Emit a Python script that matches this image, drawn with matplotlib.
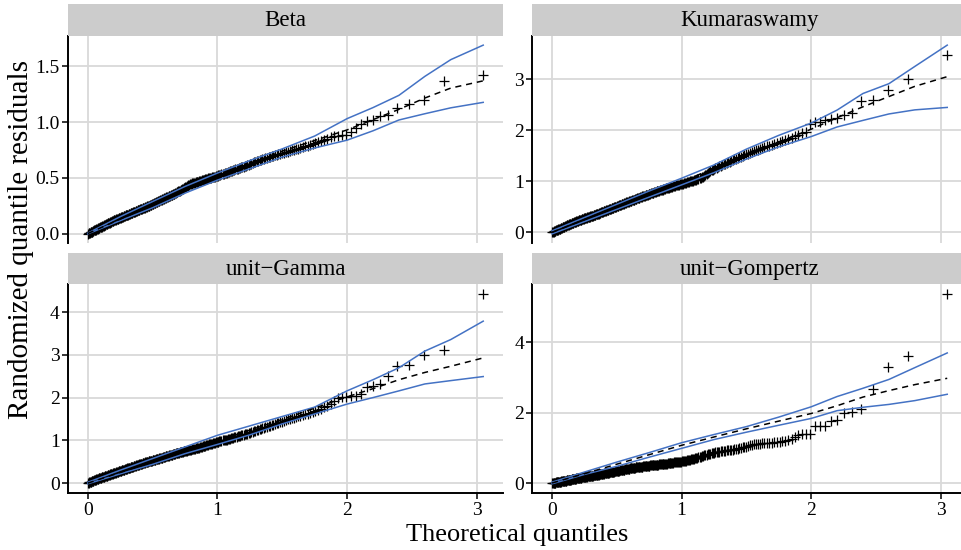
import matplotlib
matplotlib.use("Agg")
import matplotlib.pyplot as plt
from matplotlib.ticker import MultipleLocator, FormatStrFormatter
from statistics import NormalDist

plt.rcParams["font.family"] = ["Liberation Serif", "DejaVu Serif"]

# ---------------------------------------------------------------------------
# Data: sorted randomized quantile residuals (absolute values) for each model
# ---------------------------------------------------------------------------
panel_titles = ["Beta", "Kumaraswamy", "unit\u2212Gamma", "unit\u2212Gompertz"]

beta_resid = [
    0.001, 0.003, 0.006, 0.008, 0.012, 0.014, 0.016, 0.019, 0.022, 0.026,
    0.029, 0.031, 0.034, 0.037, 0.039, 0.042, 0.045, 0.047, 0.050, 0.053,
    0.056, 0.058, 0.061, 0.063, 0.066, 0.069, 0.072, 0.074, 0.077, 0.080,
    0.083, 0.086, 0.088, 0.091, 0.094, 0.097, 0.099, 0.102, 0.105, 0.108,
    0.111, 0.113, 0.116, 0.118, 0.120, 0.122, 0.125, 0.127, 0.130, 0.132,
    0.135, 0.137, 0.139, 0.141, 0.143, 0.146, 0.148, 0.150, 0.153, 0.156,
    0.158, 0.160, 0.163, 0.165, 0.167, 0.169, 0.171, 0.174, 0.176, 0.179,
    0.182, 0.184, 0.186, 0.189, 0.191, 0.193, 0.196, 0.198, 0.200, 0.203,
    0.206, 0.208, 0.210, 0.213, 0.215, 0.217, 0.220, 0.222, 0.225, 0.227,
    0.230, 0.232, 0.234, 0.237, 0.239, 0.241, 0.244, 0.246, 0.249, 0.252,
    0.255, 0.258, 0.261, 0.264, 0.266, 0.269, 0.272, 0.274, 0.277, 0.280,
    0.283, 0.286, 0.289, 0.292, 0.295, 0.298, 0.301, 0.304, 0.307, 0.310,
    0.313, 0.316, 0.319, 0.322, 0.325, 0.328, 0.331, 0.334, 0.337, 0.341,
    0.344, 0.347, 0.350, 0.353, 0.356, 0.359, 0.362, 0.366, 0.370, 0.374,
    0.378, 0.382, 0.386, 0.390, 0.394, 0.398, 0.402, 0.406, 0.410, 0.415,
    0.420, 0.424, 0.429, 0.433, 0.437, 0.441, 0.445, 0.448, 0.450, 0.453,
    0.456, 0.458, 0.460, 0.463, 0.465, 0.467, 0.470, 0.472, 0.475, 0.478,
    0.480, 0.483, 0.485, 0.487, 0.490, 0.492, 0.495, 0.497, 0.500, 0.502,
    0.505, 0.507, 0.510, 0.512, 0.515, 0.518, 0.520, 0.523, 0.526, 0.530,
    0.533, 0.536, 0.539, 0.542, 0.545, 0.548, 0.551, 0.554, 0.558, 0.562,
    0.566, 0.569, 0.572, 0.576, 0.579, 0.583, 0.586, 0.590, 0.593, 0.597,
    0.601, 0.605, 0.609, 0.614, 0.618, 0.623, 0.628, 0.633, 0.639, 0.645,
    0.650, 0.654, 0.658, 0.662, 0.666, 0.670, 0.674, 0.679, 0.684, 0.690,
    0.694, 0.698, 0.702, 0.707, 0.711, 0.716, 0.720, 0.725, 0.731, 0.735,
    0.741, 0.746, 0.752, 0.757, 0.763, 0.770, 0.776, 0.783, 0.790, 0.797,
    0.803, 0.810, 0.818, 0.828, 0.836, 0.848, 0.866, 0.872, 0.876, 0.880,
    0.886, 0.912, 0.948, 0.984, 1.007, 1.022, 1.052, 1.067, 1.124, 1.158,
    1.196, 1.366, 1.424,
]

kuma_resid = [
    0.003, 0.008, 0.013, 0.019, 0.024, 0.030, 0.036, 0.041, 0.047, 0.053,
    0.058, 0.064, 0.069, 0.074, 0.080, 0.085, 0.091, 0.097, 0.103, 0.108,
    0.114, 0.119, 0.124, 0.130, 0.135, 0.140, 0.145, 0.150, 0.155, 0.160,
    0.165, 0.170, 0.175, 0.180, 0.186, 0.191, 0.196, 0.200, 0.205, 0.210,
    0.215, 0.220, 0.225, 0.229, 0.234, 0.239, 0.243, 0.247, 0.251, 0.256,
    0.260, 0.264, 0.268, 0.272, 0.276, 0.279, 0.283, 0.287, 0.291, 0.295,
    0.299, 0.303, 0.307, 0.311, 0.315, 0.319, 0.323, 0.327, 0.331, 0.338,
    0.343, 0.347, 0.352, 0.356, 0.360, 0.364, 0.368, 0.372, 0.378, 0.384,
    0.389, 0.394, 0.399, 0.404, 0.409, 0.414, 0.419, 0.424, 0.430, 0.435,
    0.440, 0.445, 0.450, 0.456, 0.461, 0.466, 0.471, 0.476, 0.481, 0.486,
    0.491, 0.496, 0.501, 0.506, 0.511, 0.516, 0.521, 0.526, 0.531, 0.537,
    0.542, 0.548, 0.553, 0.558, 0.564, 0.569, 0.575, 0.580, 0.585, 0.590,
    0.595, 0.600, 0.606, 0.611, 0.616, 0.622, 0.627, 0.632, 0.637, 0.642,
    0.648, 0.654, 0.659, 0.665, 0.671, 0.676, 0.682, 0.688, 0.693, 0.698,
    0.703, 0.708, 0.714, 0.719, 0.724, 0.729, 0.735, 0.740, 0.745, 0.751,
    0.757, 0.763, 0.768, 0.773, 0.779, 0.784, 0.789, 0.795, 0.800, 0.806,
    0.811, 0.817, 0.822, 0.828, 0.834, 0.839, 0.845, 0.850, 0.856, 0.861,
    0.867, 0.872, 0.877, 0.882, 0.887, 0.892, 0.897, 0.902, 0.907, 0.914,
    0.920, 0.925, 0.930, 0.935, 0.940, 0.945, 0.950, 0.956, 0.962, 0.968,
    0.974, 0.979, 0.984, 0.990, 0.996, 1.002, 1.008, 1.014, 1.020, 1.027,
    1.034, 1.041, 1.048, 1.056, 1.065, 1.075, 1.087, 1.101, 1.117, 1.135,
    1.155, 1.175, 1.195, 1.213, 1.229, 1.244, 1.257, 1.270, 1.283, 1.296,
    1.309, 1.322, 1.335, 1.348, 1.361, 1.374, 1.387, 1.400, 1.414, 1.428,
    1.442, 1.456, 1.470, 1.484, 1.498, 1.512, 1.526, 1.542, 1.558, 1.574,
    1.590, 1.605, 1.620, 1.638, 1.655, 1.670, 1.685, 1.700, 1.715, 1.730,
    1.745, 1.760, 1.780, 1.800, 1.825, 1.855, 1.880, 1.905, 1.945, 1.975,
    2.130, 2.160, 2.170, 2.200, 2.213, 2.233, 2.297, 2.330, 2.575, 2.590,
    2.796, 3.010, 3.476,
]

ugamma_resid = [
    0.004, 0.012, 0.019, 0.026, 0.032, 0.038, 0.044, 0.050, 0.056, 0.062,
    0.068, 0.074, 0.080, 0.085, 0.091, 0.096, 0.101, 0.106, 0.110, 0.114,
    0.119, 0.124, 0.129, 0.134, 0.139, 0.144, 0.149, 0.154, 0.159, 0.164,
    0.169, 0.174, 0.179, 0.184, 0.189, 0.194, 0.199, 0.204, 0.208, 0.213,
    0.218, 0.223, 0.227, 0.232, 0.237, 0.242, 0.247, 0.252, 0.258, 0.264,
    0.270, 0.275, 0.280, 0.285, 0.290, 0.294, 0.299, 0.304, 0.309, 0.314,
    0.319, 0.324, 0.329, 0.334, 0.339, 0.344, 0.349, 0.354, 0.359, 0.364,
    0.369, 0.374, 0.379, 0.384, 0.389, 0.394, 0.399, 0.404, 0.409, 0.414,
    0.419, 0.424, 0.429, 0.434, 0.439, 0.444, 0.449, 0.454, 0.459, 0.464,
    0.469, 0.474, 0.479, 0.484, 0.489, 0.494, 0.499, 0.504, 0.509, 0.513,
    0.517, 0.521, 0.525, 0.529, 0.533, 0.537, 0.541, 0.545, 0.550, 0.556,
    0.561, 0.566, 0.571, 0.575, 0.580, 0.584, 0.588, 0.593, 0.598, 0.603,
    0.608, 0.613, 0.618, 0.624, 0.629, 0.634, 0.639, 0.644, 0.649, 0.653,
    0.658, 0.663, 0.668, 0.674, 0.679, 0.684, 0.689, 0.694, 0.699, 0.704,
    0.709, 0.714, 0.719, 0.724, 0.729, 0.734, 0.739, 0.744, 0.749, 0.754,
    0.759, 0.763, 0.768, 0.772, 0.776, 0.780, 0.784, 0.789, 0.793, 0.797,
    0.801, 0.806, 0.811, 0.816, 0.821, 0.826, 0.832, 0.838, 0.844, 0.854,
    0.860, 0.866, 0.873, 0.879, 0.886, 0.892, 0.899, 0.905, 0.912, 0.920,
    0.927, 0.933, 0.940, 0.946, 0.952, 0.958, 0.964, 0.970, 0.976, 0.984,
    0.993, 0.998, 1.003, 1.009, 1.015, 1.021, 1.027, 1.033, 1.040, 1.048,
    1.057, 1.064, 1.072, 1.080, 1.088, 1.095, 1.102, 1.109, 1.117, 1.125,
    1.133, 1.141, 1.149, 1.157, 1.166, 1.175, 1.186, 1.197, 1.210, 1.222,
    1.234, 1.246, 1.258, 1.270, 1.281, 1.292, 1.303, 1.314, 1.328, 1.345,
    1.358, 1.371, 1.384, 1.398, 1.412, 1.426, 1.441, 1.457, 1.473, 1.490,
    1.505, 1.520, 1.535, 1.550, 1.565, 1.580, 1.595, 1.610, 1.625, 1.640,
    1.660, 1.685, 1.715, 1.745, 1.775, 1.810, 1.855, 1.925, 1.990, 2.015,
    2.022, 2.030, 2.047, 2.087, 2.245, 2.262, 2.320, 2.510, 2.730, 2.770,
    3.005, 3.120, 4.430,
]

ugomp_resid = [
    0.003, 0.006, 0.009, 0.012, 0.015, 0.018, 0.021, 0.024, 0.027, 0.031,
    0.034, 0.037, 0.040, 0.043, 0.046, 0.049, 0.052, 0.055, 0.059, 0.063,
    0.066, 0.070, 0.073, 0.076, 0.080, 0.083, 0.086, 0.090, 0.093, 0.097,
    0.100, 0.103, 0.107, 0.110, 0.113, 0.117, 0.120, 0.123, 0.127, 0.130,
    0.134, 0.137, 0.140, 0.144, 0.147, 0.151, 0.154, 0.158, 0.161, 0.165,
    0.168, 0.171, 0.174, 0.177, 0.180, 0.183, 0.186, 0.189, 0.192, 0.195,
    0.198, 0.201, 0.204, 0.207, 0.209, 0.212, 0.215, 0.218, 0.221, 0.224,
    0.227, 0.230, 0.233, 0.236, 0.239, 0.242, 0.245, 0.248, 0.251, 0.255,
    0.259, 0.263, 0.266, 0.270, 0.273, 0.277, 0.280, 0.284, 0.287, 0.291,
    0.295, 0.298, 0.302, 0.305, 0.309, 0.313, 0.316, 0.320, 0.324, 0.328,
    0.332, 0.336, 0.340, 0.344, 0.348, 0.351, 0.355, 0.358, 0.362, 0.365,
    0.369, 0.373, 0.377, 0.380, 0.384, 0.388, 0.392, 0.395, 0.399, 0.403,
    0.407, 0.411, 0.415, 0.418, 0.422, 0.426, 0.430, 0.434, 0.438, 0.442,
    0.445, 0.448, 0.451, 0.454, 0.457, 0.460, 0.462, 0.465, 0.468, 0.471,
    0.474, 0.477, 0.480, 0.483, 0.486, 0.489, 0.491, 0.494, 0.497, 0.500,
    0.503, 0.506, 0.508, 0.511, 0.514, 0.516, 0.519, 0.522, 0.525, 0.528,
    0.531, 0.534, 0.537, 0.540, 0.543, 0.546, 0.548, 0.551, 0.553, 0.556,
    0.559, 0.562, 0.566, 0.570, 0.573, 0.577, 0.581, 0.585, 0.589, 0.593,
    0.597, 0.600, 0.604, 0.608, 0.612, 0.616, 0.620, 0.625, 0.630, 0.636,
    0.643, 0.650, 0.657, 0.664, 0.671, 0.678, 0.685, 0.692, 0.699, 0.707,
    0.716, 0.725, 0.735, 0.745, 0.755, 0.765, 0.776, 0.787, 0.797, 0.808,
    0.818, 0.828, 0.838, 0.848, 0.858, 0.867, 0.876, 0.884, 0.892, 0.899,
    0.906, 0.912, 0.918, 0.924, 0.930, 0.936, 0.942, 0.949, 0.956, 0.966,
    0.975, 0.985, 0.995, 1.005, 1.016, 1.028, 1.042, 1.058, 1.074, 1.095,
    1.108, 1.115, 1.120, 1.125, 1.130, 1.135, 1.140, 1.147, 1.153, 1.160,
    1.167, 1.175, 1.185, 1.200, 1.220, 1.250, 1.300, 1.360, 1.390, 1.400,
    1.410, 1.620, 1.630, 1.635, 1.780, 1.790, 2.000, 2.010, 2.100, 2.670,
    3.310, 3.600, 5.380,
]

# Simulated envelope (lower / median / upper) evaluated on a common grid
env_x = [0.0, 0.25, 0.5, 0.75, 1.0, 1.25, 1.5, 1.75, 2.0, 2.2, 2.4, 2.6, 2.8, 3.05]

beta_lower = [-0.002, 0.116, 0.232, 0.363, 0.480, 0.583, 0.687, 0.768, 0.838, 0.922, 1.019, 1.075, 1.128, 1.177]
beta_median = [0.001, 0.130, 0.260, 0.388, 0.515, 0.628, 0.740, 0.835, 0.930, 1.022, 1.114, 1.216, 1.305, 1.370]
beta_upper = [0.004, 0.152, 0.288, 0.423, 0.543, 0.655, 0.760, 0.875, 1.031, 1.130, 1.240, 1.410, 1.560, 1.690]

kuma_lower = [-0.030, 0.210, 0.450, 0.690, 0.930, 1.170, 1.436, 1.675, 1.876, 2.064, 2.193, 2.319, 2.399, 2.447]
kuma_median = [0.000, 0.250, 0.500, 0.745, 0.990, 1.255, 1.520, 1.770, 2.020, 2.245, 2.460, 2.660, 2.860, 3.050]
kuma_upper = [0.030, 0.290, 0.550, 0.810, 1.060, 1.320, 1.630, 1.900, 2.140, 2.395, 2.720, 2.912, 3.250, 3.667]

ugamma_lower = [-0.015, 0.217, 0.440, 0.690, 0.906, 1.130, 1.387, 1.620, 1.850, 2.002, 2.159, 2.321, 2.399, 2.494]
ugamma_median = [0.000, 0.250, 0.500, 0.745, 0.990, 1.240, 1.490, 1.755, 2.020, 2.210, 2.420, 2.590, 2.735, 2.930]
ugamma_upper = [0.020, 0.303, 0.576, 0.847, 1.120, 1.340, 1.560, 1.780, 2.160, 2.420, 2.700, 3.090, 3.360, 3.790]

ugomp_lower = [-0.017, 0.249, 0.480, 0.740, 0.990, 1.240, 1.449, 1.646, 1.840, 2.060, 2.157, 2.238, 2.346, 2.526]
ugomp_median = [0.005, 0.270, 0.540, 0.810, 1.077, 1.313, 1.545, 1.764, 1.980, 2.200, 2.447, 2.630, 2.800, 2.980]
ugomp_upper = [0.030, 0.317, 0.600, 0.870, 1.150, 1.383, 1.607, 1.878, 2.170, 2.462, 2.697, 2.947, 3.283, 3.700]

y_tick_steps = [0.5, 1.0, 1.0, 2.0]
y_tick_formats = ["%.1f", "%d", "%d", "%d"]
x_ticks = [0, 1, 2, 3]

x_label = "Theoretical quantiles"
y_label = "Randomized quantile residuals"

residuals = [beta_resid, kuma_resid, ugamma_resid, ugomp_resid]
lowers = [beta_lower, kuma_lower, ugamma_lower, ugomp_lower]
medians = [beta_median, kuma_median, ugamma_median, ugomp_median]
uppers = [beta_upper, kuma_upper, ugamma_upper, ugomp_upper]


def half_normal_scores(n):
    """Expected half-normal order statistics used on the horizontal axis."""
    nd = NormalDist()
    return [nd.inv_cdf((i + n - 0.125) / (2 * n + 0.5)) for i in range(1, n + 1)]


def expanded(lo, hi, frac=0.05):
    pad = (hi - lo) * frac
    return lo - pad, hi + pad


# ---------------------------------------------------------------------------
# Layout (pixel boxes converted to figure fractions)
# ---------------------------------------------------------------------------
W, H = 961, 550
fig = plt.figure(figsize=(W / 100, H / 100), dpi=100)
fig.patch.set_facecolor("white")


def frac_rect(left, top, right, bottom):
    return [left / W, 1 - bottom / H, (right - left) / W, (bottom - top) / H]


panel_boxes = [
    (68, 35.7, 503, 243.3),
    (532.3, 35.7, 967, 243.3),
    (68, 284.3, 503, 493.3),
    (532.3, 284.3, 967, 493.3),
]
strip_h = 31.5

BLUE = "#4472C4"
GRID = "#D9D9D9"
STRIP = "#CCCCCC"
TICK_FS = 14
STRIP_FS = 16.5
XTITLE_FS = 19
YTITLE_FS = 21

for k, (l, t, r, b) in enumerate(panel_boxes):
    ax = fig.add_axes(frac_rect(l, t, r, b))
    res = residuals[k]
    xq = half_normal_scores(len(res))

    ax.plot(xq, res, linestyle="none", marker="+", markersize=7,
            markeredgewidth=0.9, color="black", zorder=3)
    ax.plot(env_x, lowers[k], color=BLUE, lw=1.1, zorder=4)
    ax.plot(env_x, uppers[k], color=BLUE, lw=1.1, zorder=4)
    ax.plot(env_x, medians[k], color="black", lw=1.1, zorder=5,
            linestyle=(0, (4, 3.2)))

    all_x = list(xq) + env_x
    all_y = list(res) + lowers[k] + uppers[k] + medians[k]
    ax.set_xlim(*expanded(min(all_x), max(all_x)))
    ax.set_ylim(*expanded(min(all_y), max(all_y)))

    ax.set_xticks(x_ticks)
    ax.yaxis.set_major_locator(MultipleLocator(y_tick_steps[k]))
    ax.yaxis.set_major_formatter(FormatStrFormatter(y_tick_formats[k]))

    ax.set_axisbelow(True)
    ax.grid(True, color=GRID, lw=1.3)
    ax.set_facecolor("white")
    for side in ("top", "right"):
        ax.spines[side].set_visible(False)
    ax.spines["left"].set_linewidth(1.4)
    ax.spines["left"].set_color("black")
    if k >= 2:
        ax.spines["bottom"].set_linewidth(1.4)
        ax.spines["bottom"].set_color("black")
        ax.set_xticklabels([str(v) for v in x_ticks])
        ax.tick_params(axis="x", direction="out", length=4, width=1.1,
                       labelsize=TICK_FS, pad=2, colors="black")
    else:
        ax.spines["bottom"].set_visible(False)
        ax.tick_params(axis="x", length=0, labelbottom=False)
    ax.tick_params(axis="y", direction="out", length=4, width=1.1,
                   labelsize=TICK_FS, pad=2, colors="black")

    # facet strip above the panel
    sax = fig.add_axes(frac_rect(l, t - strip_h, r, t))
    sax.set_facecolor(STRIP)
    sax.set_xticks([])
    sax.set_yticks([])
    for sp in sax.spines.values():
        sp.set_visible(False)
    sax.text(0.5, 0.47, panel_titles[k], ha="center", va="center",
             fontsize=STRIP_FS, transform=sax.transAxes)

fig.text(517 / W, 1 - 535 / H, x_label, ha="center", va="center",
         fontsize=XTITLE_FS)
fig.text(21 / W, 1 - 240 / H, y_label, ha="center", va="center",
         rotation=90, fontsize=YTITLE_FS)

fig.savefig("out.png", dpi=100, facecolor="white")
